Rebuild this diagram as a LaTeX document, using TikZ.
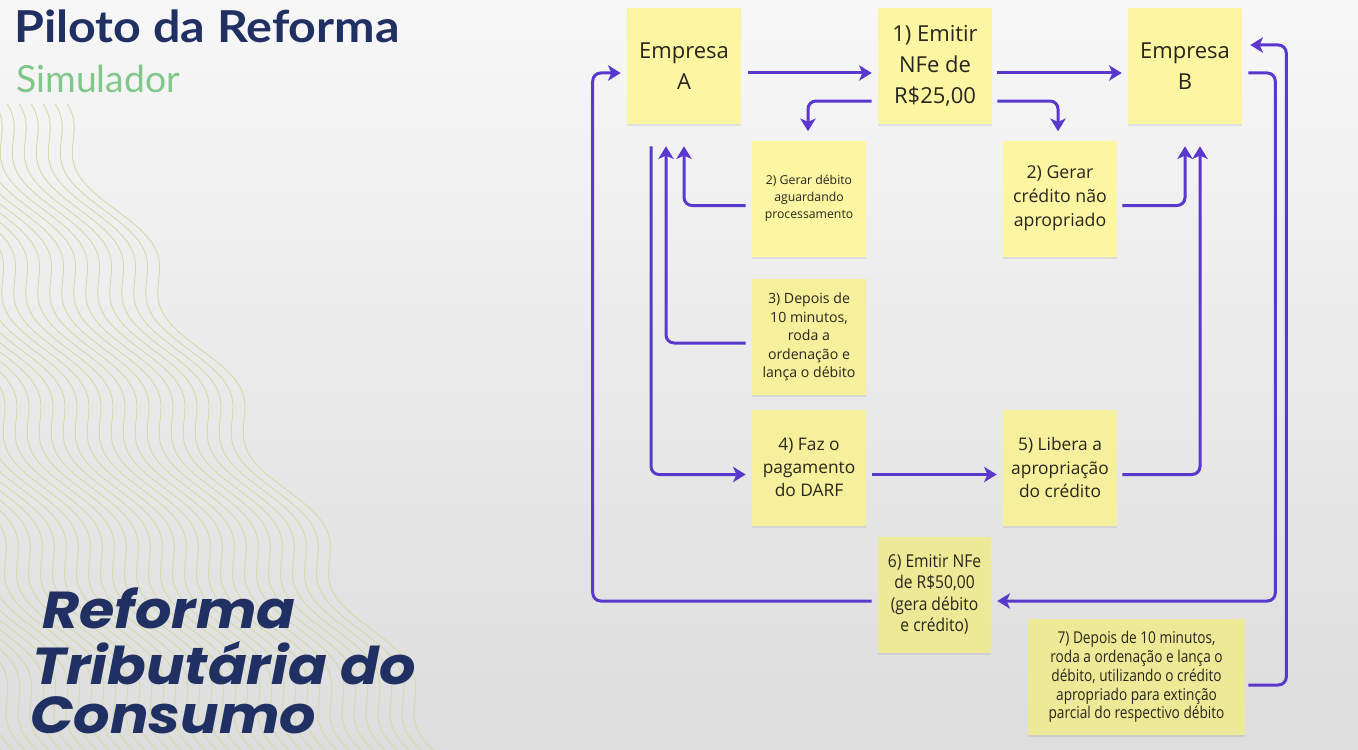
\documentclass[tikz,border=0pt]{standalone}
\usepackage{fontspec}
\setmainfont{Open Sans}
\newfontfamily\condsix[FakeStretch=0.88]{Open Sans}
\newfontfamily\condfont[FakeStretch=0.84]{Open Sans}
\newfontfamily\titlefont[FakeStretch=1.1]{Lato}
\newfontfamily\subfont{Lato}
\newfontfamily\bigfont[FakeStretch=1.1]{Poppins}
\usetikzlibrary{arrows.meta,shadows,calc}
\definecolor{bgtop}{RGB}{247,247,248}
\definecolor{bgmid}{RGB}{240,240,241}
\definecolor{bgbot}{RGB}{221,221,221}
\definecolor{arrowc}{RGB}{90,55,205}
\definecolor{stickyA}{RGB}{252,246,163}
\definecolor{stickyB}{RGB}{246,240,156}
\definecolor{stickyC}{RGB}{238,233,150}
\definecolor{navy}{RGB}{32,48,98}
\definecolor{simgreen}{RGB}{128,200,138}
\definecolor{wavec}{RGB}{208,220,165}
\definecolor{notetext}{RGB}{40,38,28}
\begin{document}
\begin{tikzpicture}[x=0.75pt,y=-0.75pt,
  note/.style={minimum width=85.5pt, minimum height=87pt, inner sep=0pt, draw=none,
     general shadow={fill=black, opacity=0.07, shadow yshift=-1.5pt}},
  notetxt/.style={text=notetext, align=center, inner sep=0pt},
  big/.style={font=\fontsize{16.5}{23.3}\selectfont},
  mid/.style={font=\fontsize{13}{17.4}\selectfont},
  crd/.style={font=\fontsize{13.3}{18}\selectfont},
  sml/.style={font=\fontsize{9.2}{12.75}\selectfont},
  sm3/.style={font=\fontsize{10.6}{13.9}\selectfont},
  cnd6/.style={font=\condsix\fontsize{13.3}{16.1}\selectfont},
  cnd7/.style={font=\condfont\fontsize{12.2}{14.1}\selectfont},
  conn/.style={draw=arrowc, line width=2.25pt, rounded corners=6pt},
  arr/.style={conn, -{Stealth[length=9.5pt,width=11.5pt,inset=2.5pt]}},
  wave/.style={draw=wavec, line width=0.65pt}
]
\path[use as bounding box] (0,0) rectangle (1358,749);
\shade[top color=bgtop, middle color=bgmid, bottom color=bgbot] (0,0) rectangle (1358,749);
% wavy background
\begin{scope}
\clip (0,0) rectangle (1358,749);
\foreach \k in {0,...,40} {
  \draw[wave] plot[domain=104:760, samples=140, smooth]
    ({55 - 12*\k + 0.61*(\x-110) + 16*sin(2.571*(\x-110) + 103)}, \x);
}
\end{scope}
% titles
\node[anchor=base west, inner sep=0pt, text=navy, font=\titlefont\bfseries\fontsize{33}{38}\selectfont] (title) at (14,43) {Piloto da Reforma};
\node[anchor=base west, inner sep=0pt, text=simgreen, font=\subfont\fontsize{28}{32}\selectfont] (sub) at (16,93) {Simulador};
\node[anchor=base west, inner sep=0pt, text=navy, font=\bigfont\bfseries\itshape\fontsize{39}{42}\selectfont] (rt1) at (42,628) {Reforma};
\node[anchor=base west, inner sep=0pt, text=navy, font=\bigfont\bfseries\itshape\fontsize{39}{42}\selectfont] (rt2) at (32,684) {Tributária do};
\node[anchor=base west, inner sep=0pt, text=navy, font=\bigfont\bfseries\itshape\fontsize{39}{42}\selectfont] (rt3) at (30,733) {Consumo};
% sticky notes
\node[note, fill=stickyA] (A) at (684,66) {};
\node[notetxt, big] at (A.center) {Empresa\\A};
\node[note, fill=stickyA] (E1) at (935,66) {};
\node[notetxt, big] at (E1.center) {1) Emitir\\NFe de\\R\$25,00};
\node[note, fill=stickyA] (B) at (1185,66) {};
\node[notetxt, big] at (B.center) {Empresa\\B};
\node[note, fill=stickyA] (D2) at (809,198.5) {};
\node[notetxt, sml] at (D2.center) {2) Gerar débito\\aguardando\\processamento};
\node[note, fill=stickyA] (C2) at (1060,198.5) {};
\node[notetxt, crd] at (C2.center) {2) Gerar\\crédito não\\apropriado};
\node[note, fill=stickyB] (D3) at (809,337) {};
\node[notetxt, sm3] at (D3.center) {3) Depois de\\10 minutos,\\roda a\\ordenação e\\lança o débito};
\node[note, fill=stickyB] (D4) at (809,467.5) {};
\node[notetxt, mid] at (D4.center) {4) Faz o\\pagamento\\do DARF};
\node[note, fill=stickyB] (C5) at (1060,467.5) {};
\node[notetxt, mid] at (C5.center) {5) Libera a\\apropriação\\do crédito};
\node[note, fill=stickyC, minimum width=84.75pt] (N6) at (934.5,594.5) {};
\node[notetxt, cnd6] at (N6.center) {6) Emitir NFe\\de R\$50,00\\(gera débito\\e crédito)};
\node[note, fill=stickyC, minimum width=162.75pt] (N7) at (1136.5,677) {};
\node[notetxt, cnd7] at (N7.center) {7) Depois de 10 minutos,\\roda a ordenação e lança o\\débito, utilizando o crédito\\apropriado para extinção\\parcial do respectivo débito};
% connectors
\draw[arr] ([shift={(7,7)}]A.east) -- ([shift={(-6,7)}]E1.west);
\draw[arr] ([shift={(5,7)}]E1.east) -- ([shift={(-6,7)}]B.west);
\draw[arr] ([shift={(-6,35)}]E1.west) -| ([shift={(-1,-9)}]D2.north);
\draw[arr] ([shift={(5,35)}]E1.east) -| ([shift={(-2,-9)}]C2.north);
\draw[arr] ([shift={(-6,7)}]D2.west) -| ([shift={(0,22)}]A.south);
\draw[arr] ([shift={(-6,6)}]D3.west) -| ([shift={(-18,22)}]A.south);
\draw[arr] ([shift={(-33,22)}]A.south) |- ([shift={(-6,7)}]D4.west);
\draw[arr] ([shift={(6,7)}]D4.east) -- ([shift={(-6,7)}]C5.west);
\draw[arr] ([shift={(5,7)}]C5.east) -| ([shift={(15,22)}]B.south);
\draw[arr] ([shift={(5,7)}]C2.east) -| ([shift={(0,22)}]B.south);
\draw[arr] ([shift={(6,7)}]B.east) -- ++(27,0) |- ([shift={(6,6.5)}]N6.east);
\draw[arr] ([shift={(-6,6.5)}]N6.west) -- ++(-279,0) |- ([shift={(-6,7)}]A.west);
\draw[arr] ([shift={(3,8)}]N7.east) -- ++(38,0) |- ([shift={(8,-21)}]B.east);
\end{tikzpicture}
\end{document}
